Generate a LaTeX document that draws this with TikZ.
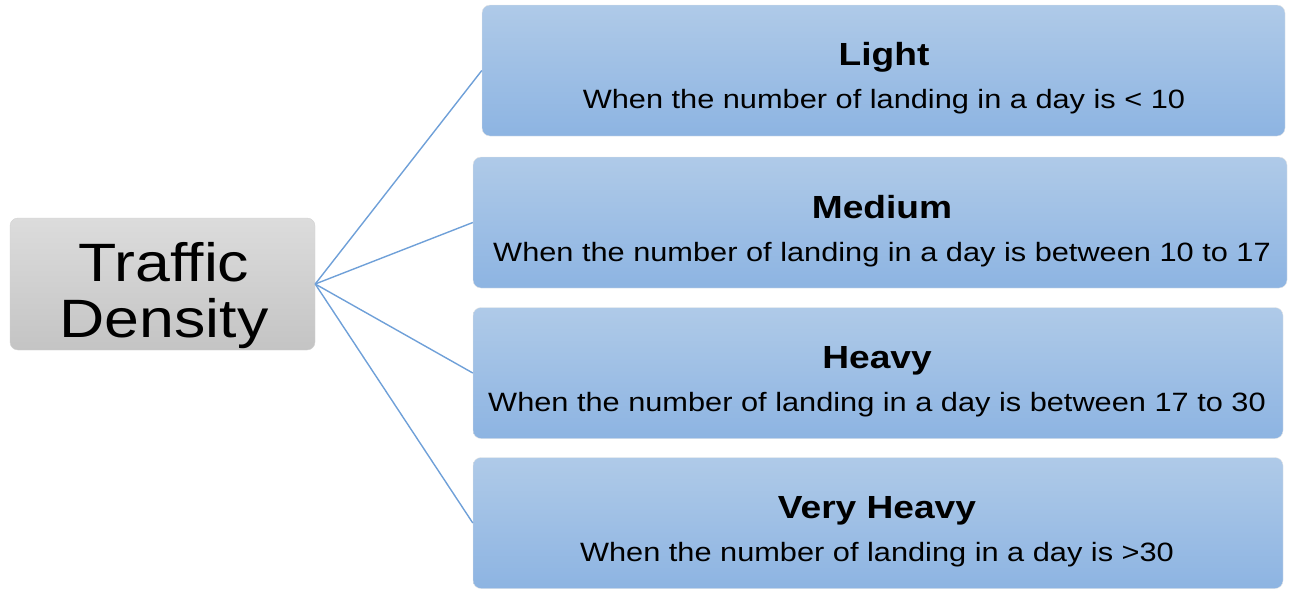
\documentclass[tikz,border=0pt]{standalone}
\usepackage{fontspec}
\setmainfont[FakeStretch=1.16]{Liberation Sans}
\definecolor{boxtop}{HTML}{AFCAE8}
\definecolor{boxbot}{HTML}{8DB4E2}
\definecolor{greytop}{HTML}{DCDCDC}
\definecolor{greybot}{HTML}{C4C4C4}
\definecolor{linkblue}{HTML}{6FA0D8}
\newcommand{\levelname}[1]{{\bfseries\fontsize{32}{43}\selectfont #1}}
\tikzset{
  rootbox/.style={rectangle, rounded corners=8pt, top color=greytop, bottom color=greybot, draw=gray!35, minimum width=305pt, minimum height=132pt},
  roottext/.style={align=center, font=\fontsize{54}{56}\selectfont},
  levelbox/.style={rectangle, rounded corners=8pt, top color=boxtop, bottom color=boxbot, draw=white!80!gray, minimum height=131pt},
  leveltext/.style={align=center, font=\fontsize{26.5}{43}\selectfont},
  link/.style={draw=linkblue, line width=1.4pt}
}
\begin{document}
\begin{tikzpicture}[x=1pt, y=-1pt]
\useasboundingbox (0,0) rectangle (1289,590);

\node (traffic) at (162.5, 284) [rootbox] {};
\node (traffictxt) at (164, 296) [roottext] {Traffic\\Density};

\node (light) at (883.5, 70.5) [levelbox, minimum width=803pt] {};
\node (lighttxt) at (884, 78.5) [leveltext] {\levelname{Light}\\When the number of landing in a day is < 10};

\node (medium) at (880, 222.5) [levelbox, minimum width=814pt] {};
\node (mediumtxt) at (882, 231) [leveltext] {\levelname{Medium}\\When the number of landing in a day is between 10 to 17};

\node (heavy) at (878, 373) [levelbox, minimum width=810pt] {};
\node (heavytxt) at (877, 382) [leveltext] {\levelname{Heavy}\\When the number of landing in a day is between 17 to 30};

\node (vheavy) at (878, 523) [levelbox, minimum width=810pt] {};
\node (vheavytxt) at (877, 532) [leveltext] {\levelname{Very Heavy}\\When the number of landing in a day is >30};

\draw[link] (traffic.east) to (light.west);
\draw[link] (traffic.east) to (medium.west);
\draw[link] (traffic.east) to (heavy.west);
\draw[link] (traffic.east) to (vheavy.west);
\end{tikzpicture}
\end{document}
